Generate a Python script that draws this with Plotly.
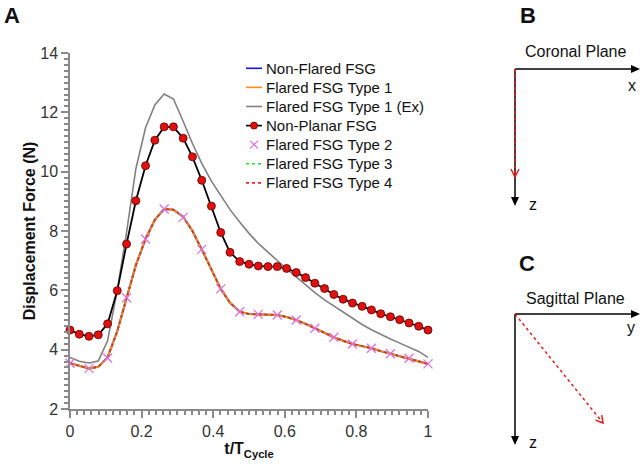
import plotly.graph_objects as go

# ---------------- data ----------------
t_cycle = [0.000, 0.026, 0.053, 0.079, 0.105, 0.132, 0.158, 0.184, 0.211, 0.237,
           0.263, 0.289, 0.316, 0.342, 0.368, 0.395, 0.421, 0.447, 0.474, 0.500,
           0.526, 0.553, 0.579, 0.605, 0.632, 0.658, 0.684, 0.711, 0.737, 0.763,
           0.789, 0.816, 0.842, 0.868, 0.895, 0.921, 0.947, 0.974, 1.000]

non_planar = [4.66, 4.52, 4.45, 4.50, 4.87, 5.99, 7.56, 9.02, 10.20, 11.06,
              11.51, 11.51, 11.13, 10.50, 9.71, 8.84, 7.95, 7.28, 6.97, 6.88,
              6.82, 6.80, 6.80, 6.74, 6.60, 6.43, 6.24, 6.06, 5.86, 5.70,
              5.57, 5.46, 5.34, 5.21, 5.11, 5.01, 4.90, 4.79, 4.66]

flared_type1_ex = [3.74, 3.61, 3.55, 3.62, 4.30, 6.00, 7.95, 10.10, 11.48, 12.25,
                   12.62, 12.45, 11.70, 10.95, 10.28, 9.68, 9.20, 8.72, 8.30, 7.92,
                   7.58, 7.28, 6.98, 6.72, 6.45, 6.18, 5.92, 5.68, 5.47, 5.25,
                   5.04, 4.85, 4.67, 4.51, 4.36, 4.22, 4.08, 3.94, 3.74]

flared_curve = [3.54, 3.45, 3.37, 3.42, 3.74, 4.62, 5.75, 6.85, 7.73, 8.38,
                8.74, 8.72, 8.48, 8.00, 7.38, 6.70, 6.05, 5.58, 5.28, 5.20,
                5.19, 5.18, 5.17, 5.10, 5.00, 4.87, 4.72, 4.57, 4.42, 4.30,
                4.19, 4.12, 4.05, 3.95, 3.86, 3.78, 3.71, 3.62, 3.52]

non_flared = flared_curve
flared_type1 = flared_curve
flared_type3 = flared_curve
flared_type4 = flared_curve

t_type2 = [0.000, 0.053, 0.105, 0.158, 0.211, 0.263, 0.316, 0.368, 0.421, 0.474,
           0.526, 0.579, 0.632, 0.684, 0.737, 0.789, 0.842, 0.895, 0.947, 1.000]
flared_type2 = [3.54, 3.37, 3.72, 5.75, 7.73, 8.74, 8.46, 7.38, 6.05, 5.28,
                5.19, 5.17, 5.00, 4.72, 4.42, 4.19, 4.05, 3.86, 3.71, 3.52]

x_ticks = [0, 0.2, 0.4, 0.6, 0.8, 1]
x_tick_labels = ["0", "0.2", "0.4", "0.6", "0.8", "1"]
y_ticks = [2, 4, 6, 8, 10, 12, 14]

legend_names = ["Non-Flared FSG", "Flared FSG Type 1", "Flared FSG Type 1 (Ex)", "Non-Planar FSG",
                "Flared FSG Type 2", "Flared FSG Type 3", "Flared FSG Type 4"]

FONT = "Arial, Liberation Sans, sans-serif"

C_BLUE = "#1010ff"
C_ORANGE = "#ff8c1a"
C_GREEN = "#22dd22"
C_RED = "#ee2222"
C_GREY = "#808080"
C_MARK = "#e01010"
C_PINK = "#e070e0"
C_FORCE = "#e81c1c"

fig = go.Figure()

fig.add_trace(go.Scatter(x=t_cycle, y=non_flared, mode="lines", name=legend_names[0],
                         line=dict(color=C_BLUE, width=2)))
fig.add_trace(go.Scatter(x=t_cycle, y=flared_type1, mode="lines", name=legend_names[1],
                         line=dict(color=C_ORANGE, width=2)))
fig.add_trace(go.Scatter(x=t_cycle, y=flared_type3, mode="lines", name=legend_names[5],
                         line=dict(color=C_GREEN, width=1.5, dash="dot")))
fig.add_trace(go.Scatter(x=t_cycle, y=flared_type4, mode="lines", name=legend_names[6],
                         line=dict(color=C_RED, width=1.5, dash="dot")))
fig.add_trace(go.Scatter(x=t_cycle, y=flared_type1_ex, mode="lines", name=legend_names[2],
                         line=dict(color=C_GREY, width=1.6)))
fig.add_trace(go.Scatter(x=t_cycle, y=non_planar, mode="lines+markers", name=legend_names[3],
                         line=dict(color="#000000", width=1.8),
                         marker=dict(color=C_MARK, size=8, line=dict(color="#600000", width=0.8)),
                         cliponaxis=False))
fig.add_trace(go.Scatter(x=t_type2, y=flared_type2, mode="markers", name=legend_names[4],
                         marker=dict(symbol="x-thin-open", size=9, color=C_PINK,
                                     line=dict(color=C_PINK, width=1.3)),
                         cliponaxis=False))

axis_common = dict(showline=True, linecolor="#8a8a8a", linewidth=1.5, ticks="outside",
                   tickcolor="#8a8a8a", ticklen=7, tickwidth=1.5, showgrid=False, zeroline=False,
                   tickfont=dict(family=FONT, size=16, color="#333333"))

fig.update_xaxes(range=[0, 1], tickvals=x_ticks, ticktext=x_tick_labels,
                 minor=dict(dtick=0.02, ticklen=4, tickcolor="#8a8a8a", ticks="outside", tick0=0),
                 title=dict(text="<b>t/T<sub>Cycle</sub></b>", font=dict(family=FONT, size=16, color="#111"),
                            standoff=4),
                 **axis_common)
fig.update_yaxes(range=[2, 14], tickvals=y_ticks,
                 minor=dict(dtick=0.2, ticklen=4, tickcolor="#8a8a8a", ticks="outside", tick0=2),
                 title=dict(text="<b>Displacement Force (N)</b>", font=dict(family=FONT, size=16, color="#111"),
                            standoff=1),
                 **axis_common)

L, R, T, B = 70, 428, 53, 409


def PX(x):
    return (x - L) / (R - L)


def PY(y):
    return (B - y) / (B - T)


annotations = []
shapes = []


def text(s, x, y, size, bold=False, anchor="center"):
    annotations.append(dict(text=("<b>%s</b>" % s) if bold else s, x=PX(x), y=PY(y), xref="paper", yref="paper",
                            showarrow=False, xanchor=anchor, yanchor="middle",
                            font=dict(family=FONT, size=size, color="#111")))


def seg(x0, y0, x1, y1, color, width=1.5, dash="solid"):
    shapes.append(dict(type="line", xref="paper", yref="paper", x0=PX(x0), y0=PY(y0), x1=PX(x1), y1=PY(y1),
                       line=dict(color=color, width=width, dash=dash)))


def poly(points, color, fill=True, width=1.5):
    path = "M " + " L ".join("%.5f,%.5f" % (PX(x), PY(y)) for x, y in points)
    if fill:
        path += " Z"
    shapes.append(dict(type="path", xref="paper", yref="paper", path=path,
                       fillcolor=color if fill else "rgba(0,0,0,0)",
                       line=dict(color=color, width=0 if fill else width)))


# ---------------- legend (drawn manually to match row spacing) ----------------
LEG_Y0, LEG_DY = 68.3, 19.1
LX0, LX1, LTX = 246, 262, 264
legend_styles = [
    ("line", C_BLUE, "solid"),
    ("line", C_ORANGE, "solid"),
    ("line", C_GREY, "solid"),
    ("marker_line", "#000", "solid"),
    ("x", C_PINK, None),
    ("line", C_GREEN, "dot"),
    ("line", C_RED, "dot"),
]
for i, (name, (kind, col, dash)) in enumerate(zip(legend_names, legend_styles)):
    yc = LEG_Y0 + LEG_DY * i
    if kind == "line":
        seg(LX0, yc, LX1, yc, col, 1.6, dash)
    elif kind == "marker_line":
        seg(LX0, yc, LX1, yc, col, 1.6, dash)
        shapes.append(dict(type="circle", xref="paper", yref="paper",
                           x0=PX(254 - 3.5), x1=PX(254 + 3.5), y0=PY(yc + 3.5), y1=PY(yc - 3.5),
                           fillcolor=C_MARK, line=dict(color="#600000", width=0.8)))
    else:
        seg(250, yc - 4, 258, yc + 4, col, 1.2)
        seg(250, yc + 4, 258, yc - 4, col, 1.2)
    text(name, LTX, yc, 15, anchor="left")

# ---------------- panel letters and planes ----------------
text("A", 12, 16, 22, True)
text("B", 528, 16, 22, True)
text("C", 527, 263, 22, True)
text("Coronal Plane", 576, 52, 16)
text("x", 632, 86, 16)
text("z", 533, 204, 16)
text("Sagittal Plane", 575, 298, 16)
text("y", 631, 327, 16)
text("z", 533, 443, 16)

# panel B axes (black, arrowheads filled)
seg(515, 69, 632, 69, "#000", 1.5)
poly([(631, 65), (640, 69), (631, 73)], "#000")
seg(515, 69, 515, 198, "#000", 1.5)
poly([(511, 197), (515, 206), (519, 197)], "#000")
# panel C axes
seg(515, 314, 632, 314, "#000", 1.5)
poly([(631, 310), (640, 314), (631, 318)], "#000")
seg(515, 314, 515, 437, "#000", 1.5)
poly([(511, 436), (515, 445), (519, 436)], "#000")

# red force directions (drawn after the black axes, so on top)
seg(515, 69, 515, 177, C_FORCE, 1.6, "dot")
poly([(511, 169), (515, 177), (519, 169)], C_FORCE, fill=False, width=1.5)
seg(515, 314, 603, 423, C_FORCE, 1.5, "dot")
poly([(595.5, 420.1), (603, 423), (601.7, 415.1)], C_FORCE, fill=False, width=1.5)

fig.update_layout(
    width=642, height=470,
    margin=dict(l=L, r=642 - R, t=T, b=470 - B),
    paper_bgcolor="white", plot_bgcolor="white",
    font=dict(family=FONT, size=14, color="#111"),
    showlegend=False,
    annotations=annotations,
    shapes=shapes,
)

fig.write_html("out.html", post_script="document.body.style.margin='0';",
               config={"displayModeBar": False})
